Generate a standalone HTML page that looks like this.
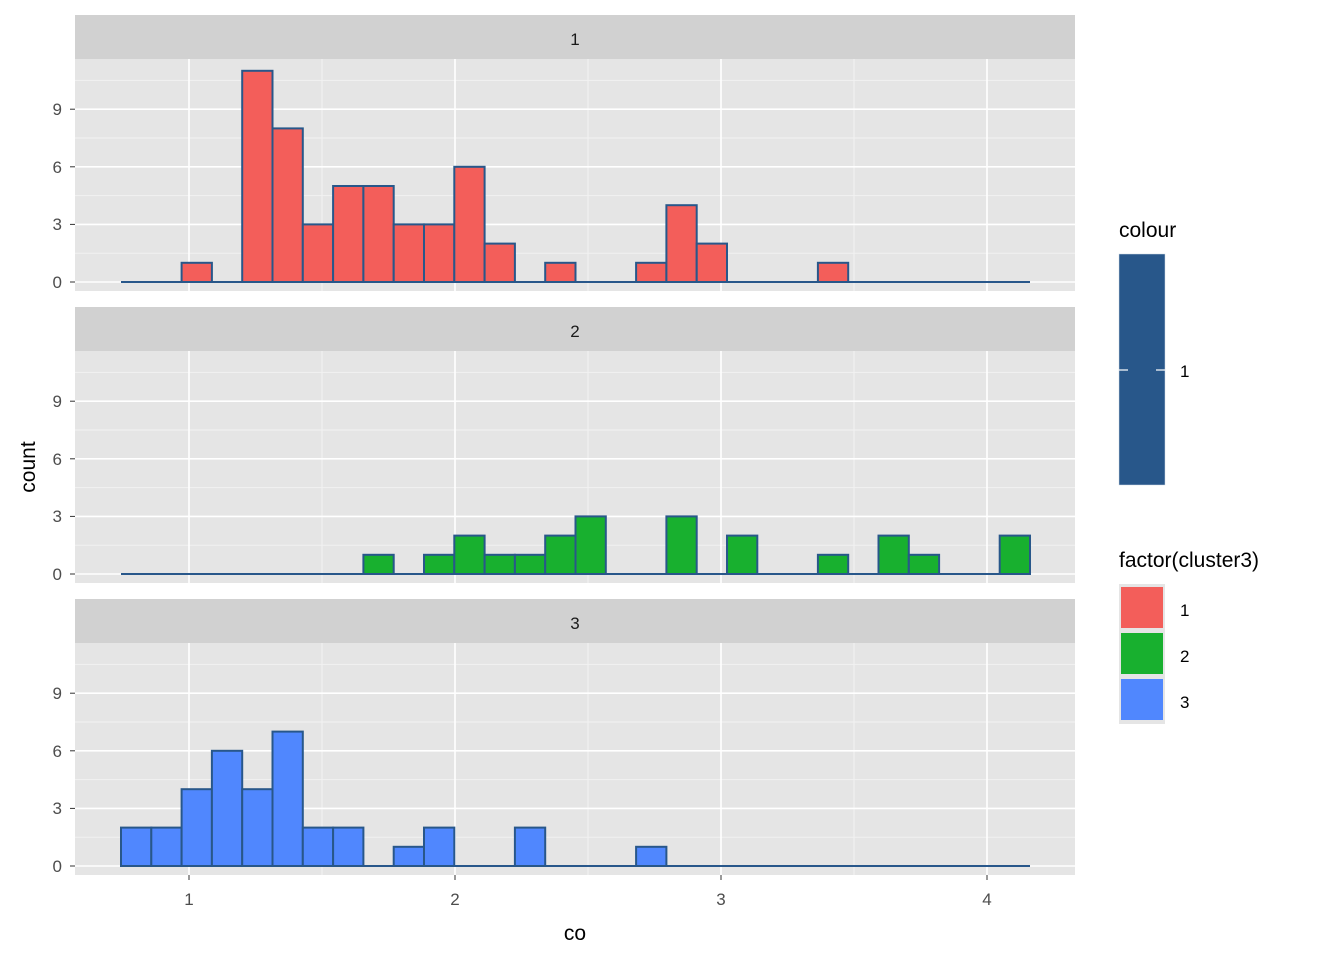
<!DOCTYPE html>
<html><head><meta charset="utf-8"><style>
html,body{margin:0;padding:0;background:#fff}
svg{display:block;font-family:"Liberation Sans",Arial,sans-serif}
</style></head><body>
<svg id="s" width="1344" height="960" xmlns="http://www.w3.org/2000/svg">
<rect width="1344" height="960" fill="#fff"/>
<g id="panels"></g>
<g font-size="17" fill="#1a1a1a" text-anchor="middle">
<text x="575" y="45">1</text>
<text x="575" y="337">2</text>
<text x="575" y="629">3</text>
</g>
<g font-size="17" fill="#4d4d4d" text-anchor="end">
<text x="62" y="288">0</text><text x="62" y="230">3</text><text x="62" y="173">6</text><text x="62" y="115">9</text>
<text x="62" y="580">0</text><text x="62" y="522">3</text><text x="62" y="465">6</text><text x="62" y="407">9</text>
<text x="62" y="872">0</text><text x="62" y="814">3</text><text x="62" y="757">6</text><text x="62" y="699">9</text>
</g>
<g font-size="17" fill="#4d4d4d" text-anchor="middle">
<text x="189" y="905">1</text><text x="455" y="905">2</text><text x="721" y="905">3</text><text x="987" y="905">4</text>
</g>
<text x="575" y="940" font-size="21" fill="#000" text-anchor="middle">co</text>
<text transform="translate(35,467) rotate(-90)" font-size="21" fill="#000" text-anchor="middle">count</text>
<text x="1119" y="237" font-size="21" fill="#000">colour</text>
<rect x="1119" y="254" width="46" height="231" fill="#28578A" stroke="#cfd9e6" stroke-width="0.5"/>
<line x1="1119" y1="370" x2="1128" y2="370" stroke="#fff" stroke-width="1.2"/>
<line x1="1156" y1="370" x2="1165" y2="370" stroke="#fff" stroke-width="1.2"/>
<text x="1180" y="377" font-size="17" fill="#000">1</text>
<text x="1119" y="567" font-size="21" fill="#000">factor(cluster3)</text>
<rect x="1119" y="584" width="46" height="140" fill="#e5e5e5"/>
<rect x="1121" y="587" width="42" height="41" fill="#F35E5A"/>
<rect x="1121" y="633" width="42" height="41" fill="#18B02F"/>
<rect x="1121" y="679" width="42" height="41" fill="#5087FE"/>
<text x="1180" y="616" font-size="17" fill="#000">1</text>
<text x="1180" y="662" font-size="17" fill="#000">2</text>
<text x="1180" y="708" font-size="17" fill="#000">3</text>
</svg>
<script>
(function(){
var NS="http://www.w3.org/2000/svg",g=document.getElementById("panels");
function el(t,a){var e=document.createElementNS(NS,t);for(var k in a)e.setAttribute(k,a[k]);g.appendChild(e);return e;}
var data=[
 [0,0,1,0,11,8,3,5,5,3,3,6,2,0,1,0,0,1,4,2,0,0,0,1,0,0,0,0,0,0],
 [0,0,0,0,0,0,0,0,1,0,1,2,1,1,2,3,0,0,3,0,2,0,0,1,0,2,1,0,0,2],
 [2,2,4,6,4,7,2,2,0,1,2,0,0,2,0,0,0,1,0,0,0,0,0,0,0,0,0,0,0,0]];
var cols=["#F35E5A","#18B02F","#5087FE"];
var sc=19.2;
for(var p=0;p<3;p++){
 var ptop=15+p*292, pt=ptop+44, pb=pt+232, base=282+p*292;
 el("rect",{x:75,y:ptop,width:1000,height:44,fill:"#d1d1d1"});
 el("rect",{x:75,y:pt,width:1000,height:232,fill:"#e5e5e5"});
 [1.5,4.5,7.5,10.5].forEach(function(v){var y=base-v*sc;el("line",{x1:75,x2:1075,y1:y,y2:y,stroke:"#f2f2f2","stroke-width":1});});
 [322,588,854].forEach(function(x){el("line",{x1:x,x2:x,y1:pt,y2:pb,stroke:"#f2f2f2","stroke-width":1});});
 [0,3,6,9].forEach(function(v){var y=base-v*sc;el("line",{x1:75,x2:1075,y1:y,y2:y,stroke:"#fff","stroke-width":1.6});el("line",{x1:70,x2:75,y1:y,y2:y,stroke:"#333","stroke-width":1});});
 [189,455,721,987].forEach(function(x){el("line",{x1:x,x2:x,y1:pt,y2:pb,stroke:"#fff","stroke-width":1.6});});
 el("line",{x1:121,x2:1030,y1:base,y2:base,stroke:"#28578A","stroke-width":2});
 for(var i=0;i<30;i++){var c=data[p][i];if(!c)continue;var x=121+30.3*i;
  el("rect",{x:x,y:base-c*sc,width:30.3,height:c*sc,fill:cols[p],stroke:"#28578A","stroke-width":2});}
}
[189,455,721,987].forEach(function(x){el("line",{x1:x,x2:x,y1:875,y2:880,stroke:"#333","stroke-width":1});});
})();
</script>
</body></html>
